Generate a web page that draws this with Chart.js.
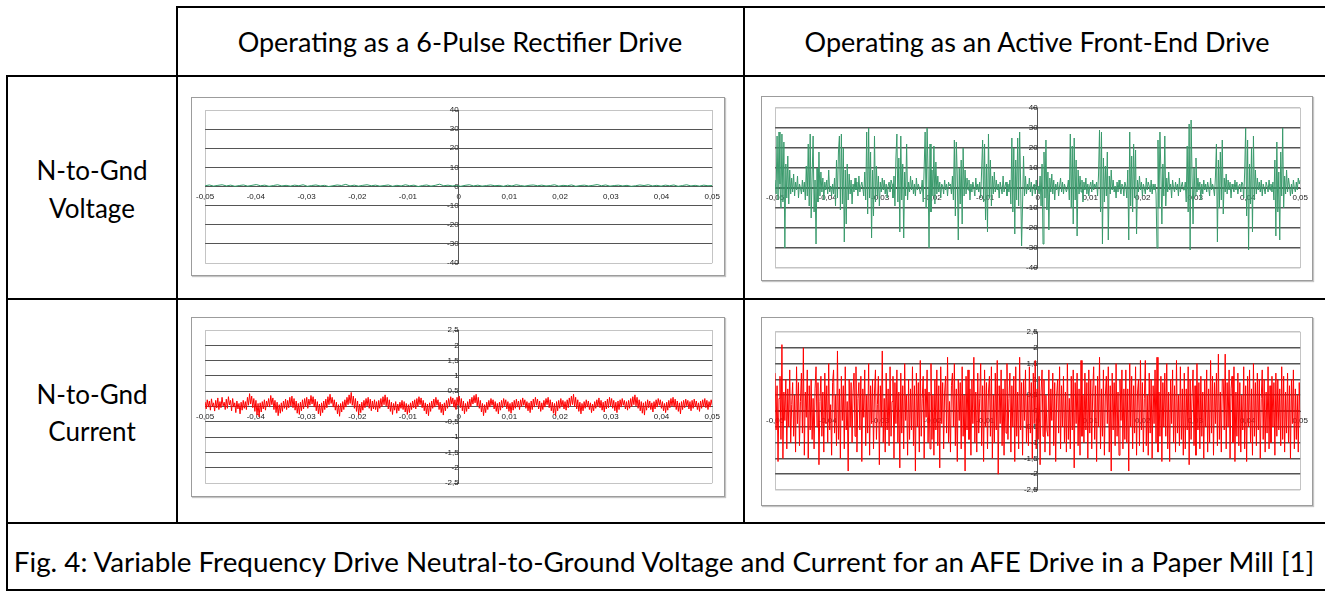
<!DOCTYPE html>
<html>
<head>
<meta charset="utf-8">
<script src="https://cdn.jsdelivr.net/npm/chart.js@4"></script>
<style>
  body { margin: 0; background: #fff; }
  #page { position: relative; width: 1325px; height: 591px; overflow: hidden; font-family: Lato, "Open Sans", sans-serif; color: #000; }
  .ln { position: absolute; background: #000; }
  .txt { position: absolute; white-space: nowrap; text-align: center; transform: translateX(-50%); line-height: 30px; height: 30px; }
  .frame { position: absolute; box-sizing: border-box; border: 1px solid #9c9c9c; box-shadow: 1px 1px 1px #c4c4c4; background: #fff; }
  canvas { position: absolute; }
</style>
</head>
<body>
<div id="page">
  <!-- table rules -->
  <div class="ln" style="left:176px;top:6px;width:1149px;height:2px"></div>
  <div class="ln" style="left:6px;top:75px;width:1319px;height:2px"></div>
  <div class="ln" style="left:6px;top:298px;width:1319px;height:2px"></div>
  <div class="ln" style="left:6px;top:522px;width:1319px;height:2px"></div>
  <div class="ln" style="left:6px;top:589px;width:1319px;height:2px"></div>
  <div class="ln" style="left:6px;top:75px;width:2px;height:516px"></div>
  <div class="ln" style="left:176px;top:6px;width:2px;height:517px"></div>
  <div class="ln" style="left:743px;top:6px;width:2px;height:517px"></div>

  <div class="txt" style="left:460px;top:27px;font-size:27px">Operating as a 6-Pulse Rectifier Drive</div>
  <div class="txt" style="left:1037px;top:27px;font-size:27px">Operating as an Active Front-End Drive</div>
  <div class="txt" style="left:92px;top:155px;font-size:26px">N-to-Gnd</div>
  <div class="txt" style="left:92px;top:193px;font-size:26px">Voltage</div>
  <div class="txt" style="left:92px;top:379px;font-size:26px">N-to-Gnd</div>
  <div class="txt" style="left:92px;top:416px;font-size:26px">Current</div>
  <div class="txt" style="left:664px;top:547px;font-size:27.8px">Fig. 4: Variable Frequency Drive Neutral-to-Ground Voltage and Current for an AFE Drive in a Paper Mill [1]</div>

  <div class="frame" style="left:191px;top:97px;width:534px;height:179px"></div>
  <div class="frame" style="left:761px;top:96px;width:552px;height:185px"></div>
  <div class="frame" style="left:191px;top:317px;width:534px;height:180px"></div>
  <div class="frame" style="left:761px;top:317px;width:552px;height:189px"></div>

  <canvas id="c1" width="534" height="179" style="left:191px;top:97px"></canvas>
  <canvas id="c2" width="552" height="185" style="left:761px;top:96px"></canvas>
  <canvas id="c3" width="534" height="180" style="left:191px;top:317px"></canvas>
  <canvas id="c4" width="552" height="189" style="left:761px;top:317px"></canvas>
</div>
<script>
// time span of each trace (s)
const tStart = -0.05;
const tEnd = 0.05;

// N-to-Gnd voltage, 6-pulse rectifier (V)
const sixPulseVoltage = [
  0.4,0.8,0.2,0.6,0.9,0.3,0.7,0.1,0.5,0.8,0.2,0.6,1.0,0.4,0.7,0.1,0.5,0.9,0.3,0.6,
  0.2,0.7,0.4,0.9,0.1,0.5,0.8,0.3,0.6,0.0,0.4,0.8,0.5,1.1,0.3,0.7,0.2,0.6,0.9,0.4,
  0.7,0.2,0.5,0.8,0.1,0.6,0.3,0.9,0.4,0.7,0.0,0.5,0.8,0.2,0.6,1.2,0.4,0.7,0.3,0.5,
  0.1,0.6,0.9,0.3,0.7,0.2,0.5,0.8,0.4,0.6,0.1,0.7,0.3,0.9,0.5,0.2,0.6,0.8,0.4,0.7,
  0.3,0.5,0.9,0.2,0.6,0.4,0.8,0.1,0.5,0.7,0.3,0.6,1.0,0.4,0.8,0.2,0.5,0.7,0.3,0.6,
  0.1,0.4,0.8,0.5,0.9,0.3,0.6,0.2,0.7,0.4,0.8,0.1,0.5,0.9,0.3,0.6,0.2,0.7,0.4,0.5
];

// N-to-Gnd voltage, active front-end (V)
const afeVoltage = [
  4,-3,26,-6,28,2,-10,27,-7,23,-30,12,-5,16,-8,9,-3,5,-2,7,-4,3,-1,6,-5,2,0,-3,4,-2,
  3,-6,11,-4,22,-9,27,-15,6,26,-12,4,-28,10,-7,18,-4,8,-2,5,-6,3,-1,4,-3,9,-2,1,-4,2,
  -3,5,-9,14,-5,18,26,-11,27,-8,20,-27,9,-18,12,-6,7,-3,4,-8,2,-2,5,-1,3,-4,6,-2,1,3,
  0,-4,8,-6,28,-13,30,-5,18,-25,9,-14,26,-7,11,-4,6,-9,3,-2,5,-1,4,-3,2,-5,1,3,-2,4,
  2,-5,6,-9,15,27,-7,15,-22,26,-6,12,-25,8,-4,22,-6,3,-2,6,-1,4,-3,2,-4,5,-1,2,0,-3,
  -1,4,-7,10,28,-10,30,8,-30,22,-12,9,-4,21,-8,13,-3,6,-2,3,-5,2,1,-3,4,-1,2,-4,3,1,
  2,-3,6,-6,24,-14,23,6,-26,10,-8,14,-18,20,-4,9,-3,5,-1,4,-6,2,-2,3,0,-4,5,-1,2,-2,
  3,-5,9,24,-7,22,-16,12,-22,27,-5,14,-9,6,-3,8,-2,4,-1,2,-5,3,0,-3,6,-2,1,3,-4,2,
  -2,4,-8,25,-12,20,-23,14,-6,25,-9,28,3,-29,-8,16,-4,6,-3,2,-1,5,-2,3,-4,1,2,-3,4,-1,
  1,-3,6,-9,12,-28,18,-5,24,-11,8,-21,5,-2,7,-3,4,-6,2,-1,3,-4,1,5,-2,3,-3,2,0,-2,
  0,4,-6,27,-10,21,-18,25,-6,14,-24,9,-3,6,-2,4,-7,3,-1,5,-3,2,-4,1,3,-2,4,-1,2,0,
  3,-4,7,29,-12,28,-28,15,-7,11,-4,18,-26,6,-3,9,-1,4,-2,1,-5,3,-2,4,0,-3,2,1,-4,3,
  1,-5,9,-26,28,-9,16,-12,22,-5,19,-23,4,-2,6,-1,3,-4,2,0,-3,5,-1,3,1,-2,4,-3,2,-1,
  2,-3,-30,24,-10,28,8,-18,12,-4,26,-9,5,-2,8,-1,2,-5,4,0,-2,3,-1,2,-4,5,-2,1,3,-1,
  -1,3,-7,21,-12,32,-31,34,6,-18,10,-4,15,-2,5,-1,3,-6,2,-3,4,-1,2,-2,3,0,-4,5,-1,2,
  0,-4,6,22,-27,14,-10,18,-6,24,-13,5,-2,7,-3,4,-1,3,-5,2,0,-2,4,-1,3,-3,1,2,-2,3,
  2,-5,8,30,-14,24,-31,12,-8,20,-22,26,-6,9,-3,5,-1,3,-2,4,-4,2,0,-3,3,1,-2,4,-1,2,
  -2,3,-6,14,-24,23,-12,8,-26,18,-4,30,-10,6,-3,9,-2,5,1,-4,2,-3,4,0,-2,3,-1,5,2,4
];

// N-to-Gnd current, 6-pulse rectifier (A)
const sixPulseCurrent = [
  0.15,-0.08,0.22,-0.02,0.18,-0.12,0.25,0.0,0.12,-0.15,0.2,-0.05,0.28,-0.1,0.16,-0.04,0.3,0.02,0.14,-0.1,
  0.24,-0.06,0.32,0.05,0.2,-0.14,0.26,-0.02,0.12,-0.2,0.18,-0.08,0.1,-0.24,0.14,-0.12,0.2,-0.06,0.16,-0.1,
  0.3,0.04,0.42,0.08,0.34,-0.04,0.26,-0.16,0.2,-0.28,0.1,-0.34,0.12,-0.18,0.16,-0.08,0.22,-0.12,0.18,0.0,
  0.26,-0.02,0.36,0.06,0.28,-0.1,0.2,-0.2,0.14,-0.3,0.06,-0.22,0.12,-0.16,0.18,-0.06,0.24,-0.1,0.2,-0.04,
  0.3,0.02,0.34,-0.04,0.26,-0.12,0.18,-0.22,0.1,-0.26,0.14,-0.14,0.22,-0.08,0.26,0.0,0.3,-0.06,0.24,0.04,
  0.36,0.08,0.32,-0.02,0.24,-0.14,0.16,-0.24,0.08,-0.3,0.12,-0.2,0.18,-0.1,0.24,-0.04,0.32,0.06,0.4,0.1,
  0.3,-0.02,0.22,-0.12,0.14,-0.24,0.06,-0.32,0.1,-0.18,0.16,-0.1,0.22,-0.02,0.3,0.06,0.38,0.1,0.46,0.04,
  0.34,-0.06,0.26,-0.16,0.18,-0.28,0.08,-0.2,0.14,-0.12,0.2,-0.04,0.26,0.02,0.3,-0.06,0.24,-0.14,0.18,-0.08,
  0.22,-0.1,0.16,-0.18,0.2,-0.06,0.26,0.0,0.32,0.06,0.38,0.02,0.3,-0.08,0.22,-0.16,0.14,-0.26,0.1,-0.12,
  0.16,-0.22,0.08,-0.14,0.14,-0.06,0.2,-0.1,0.16,-0.18,0.1,-0.26,0.06,-0.2,0.12,-0.1,0.18,-0.04,0.22,-0.08,
  0.26,0.0,0.32,0.06,0.28,-0.04,0.2,-0.14,0.12,-0.24,0.08,-0.3,0.12,-0.16,0.18,-0.06,0.24,-0.02,0.3,0.04,
  0.22,-0.1,0.14,-0.2,0.08,-0.28,0.12,-0.14,0.2,-0.06,0.26,0.02,0.32,0.08,0.28,-0.02,0.22,-0.1,0.3,0.04,
  0.34,-0.04,0.26,-0.14,0.18,-0.24,0.1,-0.16,0.16,-0.08,0.24,0.0,0.3,0.08,0.36,0.12,0.4,0.02,0.3,-0.06,
  0.2,-0.18,0.1,-0.3,0.06,-0.2,0.14,-0.1,0.2,-0.02,0.26,0.04,0.22,-0.08,0.16,-0.16,0.1,-0.24,0.14,-0.12,
  0.2,-0.04,0.26,0.02,0.22,-0.08,0.16,-0.16,0.1,-0.22,0.14,-0.12,0.2,-0.06,0.24,-0.02,0.18,-0.1,0.22,0.0,
  0.28,0.04,0.22,-0.06,0.16,-0.14,0.12,-0.2,0.18,-0.1,0.24,-0.02,0.3,0.04,0.24,-0.08,0.18,-0.16,0.12,-0.1,
  0.2,-0.02,0.26,0.06,0.3,-0.04,0.22,-0.14,0.14,-0.22,0.1,-0.3,0.16,-0.14,0.2,-0.06,0.26,0.0,0.2,-0.08,
  0.16,-0.12,0.22,-0.04,0.28,0.02,0.34,0.06,0.4,0.0,0.3,-0.08,0.22,-0.16,0.14,-0.24,0.1,-0.14,0.16,-0.06,
  0.22,-0.02,0.18,-0.1,0.12,-0.2,0.08,-0.14,0.16,-0.06,0.22,0.0,0.28,-0.04,0.2,-0.12,0.14,-0.18,0.18,-0.08,
  0.24,-0.04,0.3,0.02,0.26,-0.06,0.2,-0.14,0.14,-0.2,0.18,-0.1,0.22,-0.02,0.26,0.04,0.2,-0.08,0.16,-0.12,
  0.2,-0.06,0.26,0.0,0.32,0.06,0.38,0.02,0.3,-0.06,0.22,-0.14,0.16,-0.22,0.12,-0.28,0.16,-0.12,0.22,-0.04,
  0.18,-0.1,0.12,-0.18,0.16,-0.08,0.22,-0.02,0.26,0.04,0.22,-0.06,0.16,-0.14,0.1,-0.2,0.14,-0.12,0.2,-0.04,
  0.26,0.02,0.3,-0.02,0.24,-0.1,0.18,-0.16,0.12,-0.24,0.16,-0.1,0.2,-0.04,0.24,0.02,0.2,-0.08,0.16,-0.14,
  0.2,-0.06,0.24,0.0,0.18,-0.1,0.12,-0.16,0.18,-0.06,0.22,0.0,0.26,-0.04,0.2,-0.1,0.16,-0.02,0.22,0.04
];

// N-to-Gnd current, active front-end (A)
const afeCurrent = [
  1.2,-0.6,0.8,-1.6,0.4,1.1,-0.9,2.1,-1.5,0.6,-0.3,1.0,-1.2,0.7,-0.5,1.3,-1.0,0.2,0.9,-0.8,
  0.5,-1.3,1.4,-0.4,0.9,-1.1,0.3,1.2,-0.7,2.0,-1.4,0.6,-0.2,1.3,-1.5,0.8,-0.6,1.0,-0.9,0.4,
  -1.2,0.7,1.4,-0.5,0.9,-1.7,0.3,1.1,-0.8,0.6,-1.3,1.2,-0.4,0.8,-1.0,1.5,-0.6,0.2,-1.4,0.9,
  1.3,-0.7,0.5,-1.1,1.9,-0.9,0.7,-1.5,1.1,-0.3,0.8,-1.2,1.4,-0.6,0.3,-1.9,1.0,-0.5,0.9,-1.0,
  0.6,1.2,-0.8,1.4,-1.3,0.4,0.9,-0.6,1.1,-1.6,0.7,-0.2,1.3,-1.1,0.5,-0.7,1.5,-1.4,0.8,-0.4,
  1.0,-1.2,0.6,1.3,-0.9,0.2,1.1,-1.7,0.8,-0.5,1.9,-1.0,0.4,-1.3,1.2,-0.6,0.7,-1.1,1.4,-0.8,
  0.3,1.1,-1.5,0.9,-0.4,1.3,-1.0,0.6,-1.8,1.2,-0.7,0.8,-1.2,1.5,-0.3,0.5,-1.4,1.0,-0.9,0.7,
  -0.6,1.4,-1.1,0.8,-1.9,1.2,-0.5,0.9,-1.3,1.6,-0.8,0.4,1.1,-1.5,0.7,-0.2,1.3,-1.0,0.6,-1.2,
  1.5,-0.9,0.5,-1.4,1.0,-0.6,1.3,-1.1,0.8,-1.8,1.4,-0.4,0.9,-1.2,0.6,1.1,-0.7,1.7,-1.0,0.3,
  -1.3,0.8,1.2,-0.5,1.5,-1.1,0.7,-1.6,1.0,-0.3,0.9,-1.2,1.4,-0.8,0.5,-1.9,1.1,-0.6,1.3,-0.9,
  0.7,-1.4,1.0,-0.4,1.7,-1.0,0.6,-1.3,1.2,-0.7,0.4,1.5,-1.1,0.8,-1.6,1.3,-0.5,0.9,-1.2,0.6,
  1.1,-0.8,1.4,-1.5,0.5,-1.0,1.2,-0.6,1.6,-2.0,0.8,-0.4,1.3,-1.1,0.7,-1.4,1.0,-0.7,1.5,-0.9,
  0.4,1.2,-1.3,0.8,-0.5,1.1,-1.6,1.4,-0.8,0.6,-1.2,1.7,-0.6,0.9,-1.4,1.0,-0.3,1.3,-1.0,0.5,
  -1.1,1.4,-0.7,0.9,-1.5,1.2,-0.4,1.6,-1.2,0.7,-0.9,1.1,-1.7,0.6,1.3,-0.8,1.0,-1.3,0.5,-0.6,
  -0.8,1.3,-1.4,0.7,-0.3,1.2,-1.1,0.9,-1.6,0.5,1.0,-0.7,1.4,-1.2,0.8,-0.5,1.1,-1.0,0.6,-1.3,
  1.5,-0.9,0.4,-1.2,1.1,-0.6,1.3,-1.8,0.9,-0.4,1.2,-1.1,0.7,-1.4,1.6,-0.8,0.5,-1.0,1.2,-0.6,
  0.9,-1.5,1.3,-0.7,1.0,-1.2,0.6,1.4,-0.9,0.8,-1.6,1.1,-0.5,1.7,-1.2,0.7,-0.8,1.3,-1.4,0.5,
  1.1,-0.4,1.4,-1.3,0.8,-1.9,1.2,-0.6,0.9,-1.1,1.5,-0.8,0.6,-1.4,1.0,-0.3,1.3,-1.2,0.7,-0.9,
  1.3,-1.0,0.7,-1.9,1.5,-0.5,1.1,-1.2,0.8,-0.7,1.4,-1.4,0.6,1.0,-1.1,1.6,-0.6,0.9,-1.3,0.4,
  1.6,-1.1,0.5,-1.4,1.2,-0.7,1.0,-1.5,0.8,-0.4,1.3,-1.0,1.7,-1.3,0.6,-0.8,1.1,-1.6,0.9,-0.5,
  1.2,-0.8,1.5,-1.2,0.6,-1.6,1.0,-0.4,1.3,-1.0,0.8,-1.3,1.6,-0.7,0.5,-1.1,1.4,-0.9,0.7,-1.4,
  1.2,-1.2,0.7,-0.6,1.4,-1.7,1.0,-0.9,0.5,1.3,-1.1,0.8,-1.4,1.5,-0.6,0.9,-1.2,1.1,-0.8,0.6,
  -1.5,1.0,-0.5,1.3,-1.3,0.7,-1.0,1.6,-0.7,1.1,-1.4,0.9,-0.4,1.2,-1.1,1.8,-0.9,0.6,-1.3,1.0,
  1.0,-0.6,1.8,-1.2,0.9,-0.5,1.3,-1.5,0.7,1.1,-1.0,1.4,-1.6,0.6,-0.8,1.2,-1.1,0.9,-1.3,0.5,
  -0.6,1.4,-1.2,0.8,-1.6,1.1,-0.5,1.3,-1.0,0.7,-1.4,1.5,-0.8,0.9,-1.1,1.2,-0.6,1.0,-1.5,0.4,
  1.3,-0.9,1.0,-1.3,0.6,-0.7,1.4,-1.2,0.8,-1.0,1.1,-0.5,0.9,-1.4,1.2,-0.8,1.0,-0.6,0.7,-1.1,
  1.4,-0.9,1.1,-1.3,0.6,-0.7,1.2,-1.0,0.8,-1.5,1.0,-0.4,1.3,-1.2,0.7,-0.9,0.5,-1.3,0.9,-0.5
];

// equally spaced samples over the time window
function toPoints(vals) {
  const dt = (tEnd - tStart) / (vals.length - 1);
  return vals.map((v, i) => ({ x: tStart + i * dt, y: v }));
}

// excel-style comma decimals
function fmt(v) {
  return String(Math.round(v * 100) / 100).replace('.', ',');
}

function makeChart(id, vals, color, yMax, yStep, pad, gridW) {
  const tickFont = { family: 'Liberation Sans, Arial, sans-serif', size: 8 };
  return new Chart(document.getElementById(id), {
    type: 'line',
    data: {
      datasets: [{
        data: toPoints(vals),
        borderColor: color,
        borderWidth: 1,
        pointRadius: 0,
        tension: 0,
        fill: false
      }]
    },
    options: {
      responsive: false,
      animation: false,
      events: [],
      layout: { padding: pad },
      plugins: { legend: { display: false }, tooltip: { enabled: false } },
      scales: {
        x: {
          type: 'linear',
          min: tStart,
          max: tEnd,
          position: { y: 0 },
          afterFit: s => { s.height = 0; },
          ticks: { stepSize: 0.01, callback: fmt, font: tickFont, color: '#222', padding: 5, maxRotation: 0, autoSkip: false },
          grid: {
            drawTicks: false,
            color: c => (c.tick && Math.abs(Math.abs(c.tick.value) - tEnd) < 1e-9) ? '#c4c4c4' : 'rgba(0,0,0,0)'
          },
          border: { color: '#555', width: 1 }
        },
        y: {
          min: -yMax,
          max: yMax,
          position: { x: 0 },
          afterFit: s => { s.width = 0; },
          ticks: { stepSize: yStep, callback: fmt, font: tickFont, color: '#222', padding: 1 },
          grid: {
            tickLength: 4,
            tickColor: '#555',
            lineWidth: gridW,
            color: c => (c.tick && Math.abs(Math.abs(c.tick.value) - yMax) < 1e-9) ? '#c4c4c4' : '#555'
          },
          border: { color: '#555', width: 1 }
        }
      }
    }
  });
}

makeChart('c1', sixPulseVoltage, '#2e9a66', 40, 10, { left: 11, top: 13, right: 11, bottom: 13 }, 1);
makeChart('c2', afeVoltage, '#3a9a6c', 40, 10, { left: 12, top: 12, right: 11, bottom: 13 }, 1.5);
makeChart('c3', sixPulseCurrent, '#ff0000', 2.5, 0.5, { left: 11, top: 13, right: 11, bottom: 14 }, 1);
makeChart('c4', afeCurrent, '#ff0000', 2.5, 0.5, { left: 12, top: 15, right: 11, bottom: 16 }, 1.5);
</script>
</body>
</html>
